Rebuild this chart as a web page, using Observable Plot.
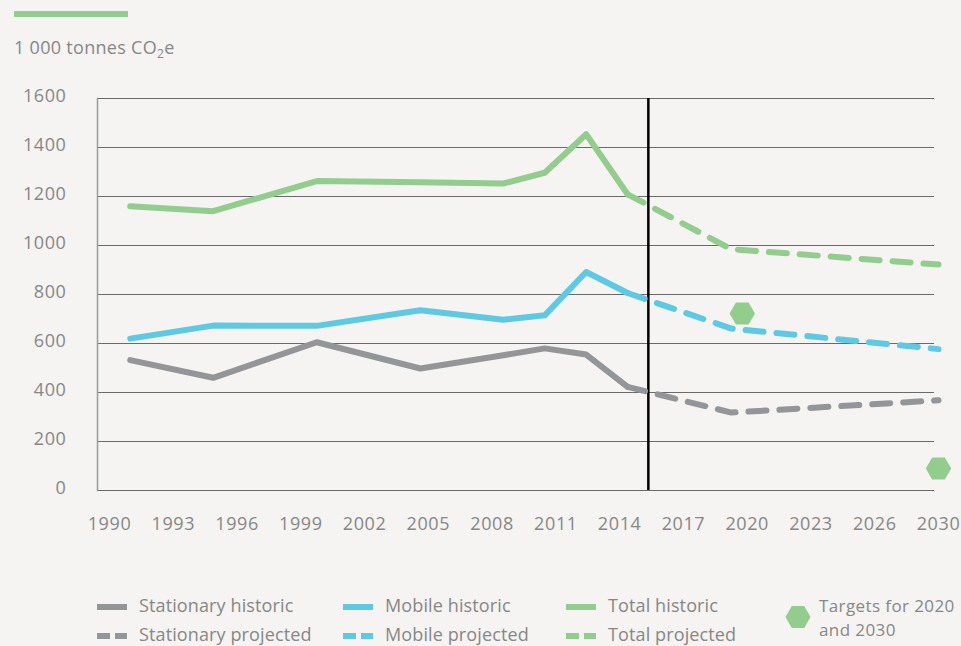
<!DOCTYPE html>
<html>
<head>
<meta charset="utf-8">
<script src="https://cdn.jsdelivr.net/npm/d3@7"></script>
<script src="https://cdn.jsdelivr.net/npm/@observablehq/plot@0.6"></script>
<style>
  html, body { margin: 0; padding: 0; background: #f5f4f2; }
  #fig { position: relative; width: 961px; height: 646px; overflow: hidden; font-family: "Open Sans", "Noto Sans", sans-serif; color: #878787; }
  .abs { position: absolute; white-space: nowrap; font-size: 18px; line-height: 20px; letter-spacing: 0.12px; }
  #chart { position: absolute; left: 0; top: 0; }
  sub { font-size: 12px; vertical-align: -4px; line-height: 0; }
</style>
</head>
<body>
<div id="fig">
  <div style="position:absolute;left:14px;top:11px;width:114px;height:6px;background:#92cd8e"></div>
  <div class="abs" style="left:14px;top:37px;letter-spacing:0.3px;">1 000 tonnes CO<sub>2</sub>e</div>
  <div id="chart"></div>
  <div id="legend"></div>
</div>
<script>
// ---- data ----
const histYears = [1991, 1995, 2000, 2005, 2009, 2011, 2013, 2015];
const stationaryHist = [532, 460, 605, 498, 552, 580, 555, 423];
const mobileHist = [620, 673, 672, 736, 697, 715, 892, 806];
const totalHist = [1160, 1140, 1263, 1258, 1253, 1297, 1454, 1209];

const projYears = [2015, 2020, 2030];
const stationaryProj = [423, 318, 368];
const mobileProj = [806, 661, 577];
const totalProj = [1209, 985, 922];

const targetYears = [2020, 2030];
const targetValues = [722, 90];

const boundaryYear = 2016;

const xTickLabels = ["1990","1993","1996","1999","2002","2005","2008","2011","2014","2017","2020","2023","2026","2030"];
const yTicks = [0, 200, 400, 600, 800, 1000, 1200, 1400, 1600];

const seriesNames = ["Stationary", "Mobile", "Total"];
const colors = { Stationary: "#939598", Mobile: "#5ec9e3", Total: "#92cd8e" };
const green = "#92cd8e";

// ---- tables ----
const hist = [];
[stationaryHist, mobileHist, totalHist].forEach((vals, k) =>
  vals.forEach((v, i) => hist.push({ series: seriesNames[k], year: histYears[i], value: v })));
const proj = [];
[stationaryProj, mobileProj, totalProj].forEach((vals, k) =>
  vals.forEach((v, i) => proj.push({ series: seriesNames[k], year: projYears[i], value: v })));
const targets = targetYears.map((y, i) => ({ year: y, value: targetValues[i] }));

const xDomain = [1990, 2030];
const tickPos = xTickLabels.map((_, i) => xDomain[0] + i * (xDomain[1] - xDomain[0]) / (xTickLabels.length - 1));

const font = '"Open Sans", "Noto Sans", sans-serif';

const chart = Plot.plot({
  width: 961,
  height: 560,
  marginTop: 98,
  marginBottom: 70,
  marginLeft: 97,
  marginRight: 27,
  style: { background: "transparent", fontFamily: font, fontSize: "18px", color: "#878787", overflow: "visible" },
  x: { domain: xDomain, range: [109, 938] },
  y: { domain: [0, 1600] },
  marks: [
    Plot.ruleY(yTicks, { stroke: "#6a6a6a", strokeWidth: 1 }),
    Plot.frame({ anchor: "left", stroke: "#9a9a9a", strokeWidth: 1.5 }),
    Plot.ruleX([boundaryYear], { stroke: "#000", strokeWidth: 2.5 }),
    Plot.line(hist, { x: "year", y: "value", z: "series", stroke: d => colors[d.series], strokeWidth: 6, strokeLinecap: "round", strokeLinejoin: "round" }),
    Plot.line(proj, { x: "year", y: "value", z: "series", stroke: d => colors[d.series], strokeWidth: 6, strokeDasharray: "18,13", strokeLinecap: "round", strokeLinejoin: "round" }),
    Plot.dot(targets.filter(d => d.year === 2020), { x: "year", y: "value", symbol: "hexagon", r: 11, fill: green, rotate: 90, dx: 11 }),
    Plot.dot(targets.filter(d => d.year !== 2020), { x: "year", y: "value", symbol: "hexagon", r: 11, fill: green, rotate: 90 }),
    Plot.axisX({ ticks: tickPos, tickFormat: (d, i) => xTickLabels[i], tickSize: 0, tickPadding: 27, label: null, fill: "#878787" }),
    Plot.axisY({ ticks: yTicks, tickFormat: d => String(d), tickSize: 0, tickPadding: 31, label: null, fill: "#878787", dy: -2 })
  ]
});
document.getElementById("chart").appendChild(chart);
chart.querySelectorAll("text").forEach(t => t.style.letterSpacing = "0.6px");

// ---- legend ----
const legendItems = [
  { label: "Stationary historic", color: colors.Stationary, dashed: false, col: 0, row: 0 },
  { label: "Stationary projected", color: colors.Stationary, dashed: true, col: 0, row: 1 },
  { label: "Mobile historic", color: colors.Mobile, dashed: false, col: 1, row: 0 },
  { label: "Mobile projected", color: colors.Mobile, dashed: true, col: 1, row: 1 },
  { label: "Total historic", color: colors.Total, dashed: false, col: 2, row: 0 },
  { label: "Total projected", color: colors.Total, dashed: true, col: 2, row: 1 }
];
const colX = [97, 343, 566];
const rowY = [607, 636];
const leg = document.getElementById("legend");
let html = "";
legendItems.forEach(it => {
  const x = colX[it.col], y = rowY[it.row];
  const sw = it.dashed
    ? `<svg width="30" height="6" style="position:absolute;left:${x}px;top:${y - 3}px"><rect x="0" y="0" width="13" height="6" fill="${it.color}"/><rect x="18" y="0" width="12" height="6" fill="${it.color}"/></svg>`
    : `<svg width="30" height="6" style="position:absolute;left:${x}px;top:${y - 3}px"><rect x="0" y="0" width="30" height="6" fill="${it.color}"/></svg>`;
  html += sw + `<div class="abs" style="left:${x + 42}px;top:${y - 12}px">${it.label}</div>`;
});
// hexagon
const hx = 798, hy = 617, R = 12.5, h = 11;
html += `<svg width="30" height="26" style="position:absolute;left:${hx - 15}px;top:${hy - 13}px"><polygon points="${15 - R},13 ${15 - R / 2},${13 - h} ${15 + R / 2},${13 - h} ${15 + R},13 ${15 + R / 2},${13 + h} ${15 - R / 2},${13 + h}" fill="${green}"/></svg>`;
html += `<div class="abs" style="left:819px;top:594px;font-size:17px;line-height:23.5px;letter-spacing:0.4px;">Targets for 2020<br>and 2030</div>`;
leg.innerHTML = html;
</script>
</body>
</html>
